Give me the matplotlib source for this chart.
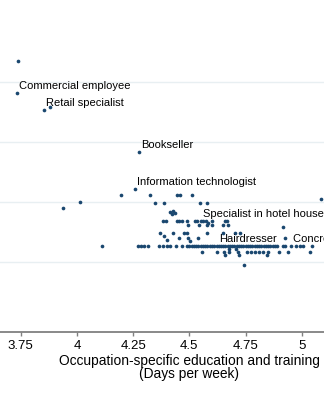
import matplotlib
matplotlib.use("Agg")
import matplotlib.pyplot as plt

# ── Data: one list of x values per outcome level (points share that y) ───────
row_levels = [4.350, 3.583, 2.117, 2.050, 2.000, 1.983, 1.900, 1.850, 1.833,
              1.817, 1.800, 1.683, 1.650, 1.617, 1.583, 1.483, 1.433, 1.400,
              1.367, 1.350, 1.267, 1.217, 1.167, 1.117, 0.950]
row_x = [
    [3.738],
    [3.880],
    [4.196, 4.325, 4.445, 4.459, 4.512],
    [5.086],
    [4.014],
    [4.347, 4.387, 4.547, 4.579],
    [3.938],
    [4.427],
    [4.414],
    [4.436],
    [4.423],
    [4.383, 4.396, 4.445, 4.454, 4.468, 4.490, 4.525, 4.534, 4.561, 4.574,
     4.601, 4.659, 4.668],
    [4.583],
    [4.495, 4.543, 4.579, 4.601, 4.650, 4.672],
    [4.917],
    [4.370, 4.428, 4.477, 4.490, 4.579, 4.650, 4.703, 4.726],
    [4.388],
    [4.454, 4.494, 4.539, 4.926],
    [4.401],
    [4.503],
    [4.112, 4.272, 4.285, 4.299, 4.316, 4.365, 4.383, 4.401, 4.414, 4.441,
     4.468, 4.49, 4.50, 4.51, 4.52, 4.53, 4.54, 4.55, 4.56, 4.57, 4.58, 4.59,
     4.60, 4.61, 4.63, 4.64, 4.65, 4.66, 4.67, 4.68, 4.69, 4.70, 4.71, 4.72,
     4.73, 4.74, 4.75, 4.76, 4.77, 4.78, 4.79, 4.80, 4.81, 4.82, 4.83, 4.84,
     4.85, 4.86, 4.87, 4.88, 4.89, 4.917, 4.926, 4.975, 4.993, 5.006, 5.046],
    [4.677, 4.708],
    [4.557, 4.623, 4.654, 4.677, 4.717, 4.757, 4.775, 4.793, 4.810, 4.828,
     4.850, 4.899, 4.939, 5.037],
    [4.659, 4.721, 4.846],
    [4.744],
]

label_names = [
    "Commercial employee",
    "Retail specialist",
    "Bookseller",
    "Information technologist",
    "Specialist in hotel housekeeping",
    "Hairdresser",
    "Concrete worker",
]
label_x = [3.734, 3.854, 4.276, 4.258, 4.552, 4.623, 4.952]
label_y = [3.817, 3.533, 2.833, 2.217, 1.683, 1.267, 1.267]

x_ticks = [3.75, 4, 4.25, 4.5, 4.75, 5]
x_ticklabels = ["3.75", "4", "4.25", "4.5", "4.75", "5"]
y_grid = [1, 2, 3, 4]

MARKER_COLOR = "#1a476f"
AXIS_COLOR = "#808080"
GRID_COLOR = "#e8eff2"

plt.rcParams["font.family"] = ["Liberation Sans", "DejaVu Sans"]

fig = plt.figure(figsize=(3.24, 4.0), dpi=100)
fig.patch.set_facecolor("white")
ax = fig.add_axes([0, 68 / 400, 1, 332 / 400])
ax.set_facecolor("white")

for level, xs in zip(row_levels, row_x):
    ax.scatter(xs, [level] * len(xs), s=7, color=MARKER_COLOR, linewidths=0, zorder=3)
ax.scatter(label_x, label_y, s=7, color=MARKER_COLOR, linewidths=0, zorder=3)

for name, lx, ly in zip(label_names, label_x, label_y):
    ax.annotate(name, (lx, ly), xytext=(1.5, 5), textcoords="offset points",
                ha="left", va="center", fontsize=8.0, color="black", zorder=4)

ax.set_xlim(3.658, 5.099)
ax.set_ylim(-0.1667, 5.367)

ax.set_yticks(y_grid)
ax.yaxis.grid(True, color=GRID_COLOR, linewidth=1.0, zorder=0)
ax.tick_params(axis="y", left=False, labelleft=False)

ax.set_xticks(x_ticks)
ax.set_xticklabels(x_ticklabels, fontsize=9.5)
ax.tick_params(axis="x", direction="out", length=3, width=1, color=AXIS_COLOR, pad=3)

for side in ["top", "left", "right"]:
    ax.spines[side].set_visible(False)
ax.spines["bottom"].set_color(AXIS_COLOR)
ax.spines["bottom"].set_linewidth(1.3)

ax.set_xlabel("Occupation-specific education and training\n(Days per week)",
              fontsize=9.9, linespacing=0.92)
ax.xaxis.set_label_coords(189 / 324, -22 / 332)

fig.savefig("out.png", dpi=100, facecolor="white")
